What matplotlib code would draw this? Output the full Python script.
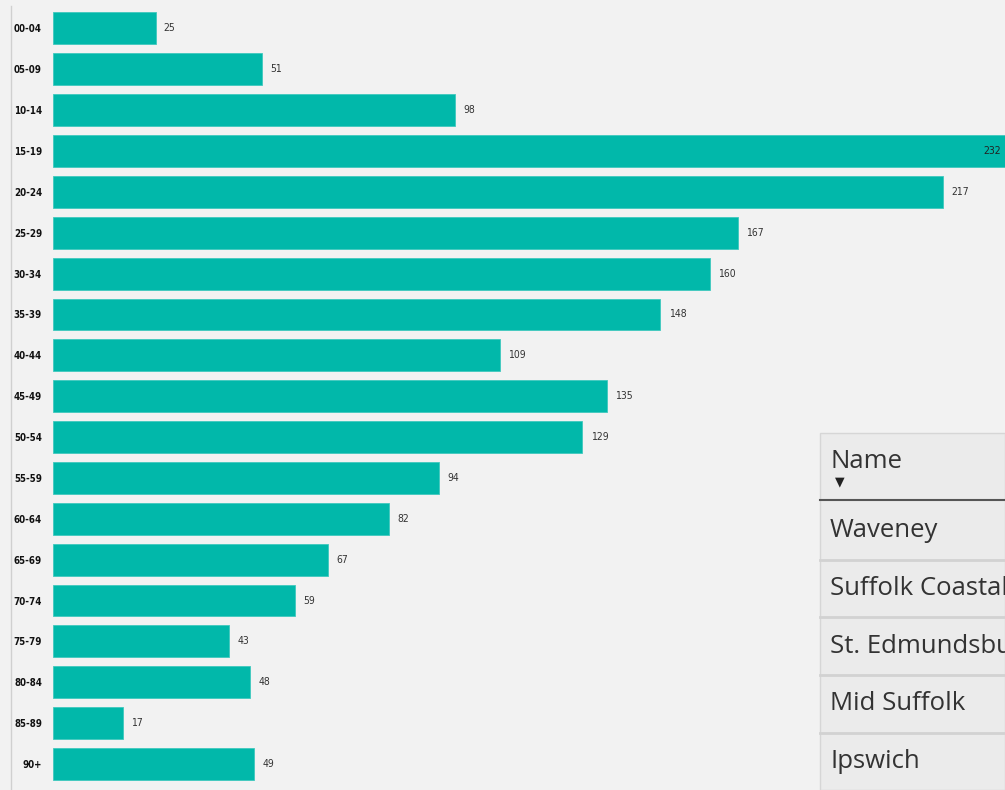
import matplotlib.pyplot as plt
from matplotlib.patches import Rectangle

# age bands and counts
age_bands = ["00-04", "05-09", "10-14", "15-19", "20-24", "25-29", "30-34", "35-39",
             "40-44", "45-49", "50-54", "55-59", "60-64", "65-69", "70-74", "75-79",
             "80-84", "85-89", "90+"]
counts = [25, 51, 98, 232, 217, 167, 160, 148, 109, 135, 129, 94, 82, 67, 59, 43, 48, 17, 49]

# slicer table entries
names = ["Waveney", "Suffolk Coastal", "St. Edmundsbury", "Mid Suffolk", "Ipswich"]

bg = "#F2F2F2"
teal = "#01B8AA"

fig = plt.figure(figsize=(10.05, 7.9), dpi=100, facecolor=bg)
ax = fig.add_axes([53 / 1005, 1 - 784.4 / 790, 952 / 1005, 776.4 / 790])
ax.set_facecolor(bg)

y = list(range(len(age_bands)))
ax.barh(y, counts, height=0.78, color=teal, edgecolor="#3FC9BE", linewidth=0.6)
ax.set_xlim(0, max(counts))
ax.set_ylim(len(age_bands) - 0.5, -0.5)
ax.set_yticks(y)
ax.set_yticklabels(age_bands, fontsize=7, fontweight="bold",
                   family="DejaVu Sans", fontstretch="condensed", color="#111111")
ax.tick_params(axis="y", length=0, pad=8)
ax.set_xticks([])
for s in ax.spines.values():
    s.set_visible(False)

top = max(counts)
for yi, v in zip(y, counts):
    if v == top:
        ax.text(v - 1, yi, str(v), ha="right", va="center", fontsize=7.5,
                family="DejaVu Sans", fontstretch="condensed", color="#222222")
    else:
        ax.text(v + 2, yi, str(v), ha="left", va="center", fontsize=7.5,
                family="DejaVu Sans", fontstretch="condensed", color="#333333")

# thin left frame line
fig.add_artist(plt.Line2D([11 / 1005, 11 / 1005], [0, 1 - 6 / 790],
                          color="#D0D0D0", linewidth=1))

# slicer table in bottom-right corner (text runs off the right edge, as in the source)
W, H = 1005, 790
def px(x0, y0, w, h):
    return (x0 / W, 1 - (y0 + h) / H, w / W, h / H)

tx0, ty0 = 820, 433
x, yb, w, h = px(tx0, ty0, W - tx0, H - ty0)
fig.add_artist(Rectangle((x, yb), w, h, transform=fig.transFigure,
                         facecolor="#EBEBEB", edgecolor="#D6D6D6", linewidth=1))
fig.text((tx0 + 10) / W, 1 - 461 / H, "Name", fontsize=18.5, family="Open Sans",
         color="#333333", va="center")
fig.text((tx0 + 20) / W, 1 - 482 / H, "\u25BC", fontsize=9, family="DejaVu Sans",
         color="#222222", ha="center", va="center")
fig.add_artist(plt.Line2D([tx0 / W, 1], [1 - 500 / H] * 2, color="#555555", linewidth=1.5))

row_top = 502
row_h = 57.7
for i, nm in enumerate(names):
    cy = row_top + row_h * (i + 0.5)
    fig.text((tx0 + 10) / W, 1 - cy / H, nm, fontsize=18.5, family="Open Sans",
             color="#333333", va="center")
    if i < len(names) - 1:
        ly = row_top + row_h * (i + 1)
        fig.add_artist(plt.Line2D([tx0 / W, 1], [1 - ly / H] * 2,
                                  color="#D2D2D2", linewidth=2))

fig.savefig("out.png", dpi=100, facecolor=bg)
